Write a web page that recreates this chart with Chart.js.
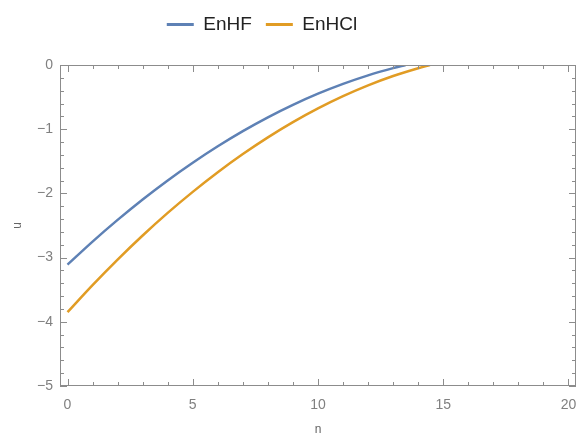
<!DOCTYPE html>
<html>
<head>
<meta charset="utf-8">
<script src="https://cdn.jsdelivr.net/npm/chart.js@4"></script>
<style>
  html, body { margin: 0; padding: 0; background: #fff; }
  #wrap { width: 579px; height: 437px; }
</style>
</head>
<body>
<div id="wrap"><canvas id="plot"></canvas></div>
<script>
// values
const nHF = [0, 1, 2, 3, 4, 5, 6, 7, 8, 9, 10, 11, 12, 13, 13.5];
const enHF = [-3.110, -2.751, -2.413, -2.095, -1.798, -1.522, -1.266, -1.030, -0.815, -0.621, -0.447, -0.294, -0.161, -0.049, 0];

const nHCl = [0, 1, 2, 3, 4, 5, 6, 7, 8, 9, 10, 11, 12, 13, 14, 14.47];
const enHCl = [-3.850, -3.429, -3.031, -2.656, -2.304, -1.976, -1.670, -1.387, -1.127, -0.890, -0.676, -0.485, -0.317, -0.172, -0.050, 0];

const xTicks = [0, 5, 10, 15, 20];
const yTicks = [0, -1, -2, -3, -4, -5];

const FONT = "'Liberation Sans', Arial, sans-serif";
const FRAME = '#8c8c8c';

function pts(xs, ys) {
    return xs.map((x, i) => ({ x: x, y: ys[i] }));
}

// Mathematica-style frame with inward ticks on all four sides
const framePlugin = {
    id: 'frame',
    afterDatasetsDraw(chart) {
        const { ctx, chartArea: a, scales: { x, y } } = chart;
        ctx.save();
        ctx.strokeStyle = FRAME;
        ctx.lineWidth = 1;
        ctx.strokeRect(a.left + 0.5, a.top + 0.5, a.right - a.left - 1, a.bottom - a.top - 1);
        ctx.beginPath();
        for (let v = 0; v <= 20; v++) {
            const px = Math.round(x.getPixelForValue(v)) + 0.5;
            const len = v % 5 === 0 ? 7 : 4;
            ctx.moveTo(px, a.bottom); ctx.lineTo(px, a.bottom - len);
            ctx.moveTo(px, a.top); ctx.lineTo(px, a.top + len);
        }
        for (let k = 0; k <= 25; k++) {
            const v = -k * 0.2;
            const py = Math.round(y.getPixelForValue(v)) + 0.5;
            const len = k % 5 === 0 ? 7 : 4;
            ctx.moveTo(a.left, py); ctx.lineTo(a.left + len, py);
            ctx.moveTo(a.right, py); ctx.lineTo(a.right - len, py);
        }
        ctx.stroke();
        ctx.restore();
    }
};

// extra room under the legend and shift it a bit left, like the original
const legendSpace = {
    id: 'legendSpace',
    beforeInit(chart) {
        const fit = chart.legend.fit;
        chart.legend.fit = function () {
            fit.call(this);
            this.height += 21;
        };
    },
    afterLayout(chart) {
        chart.legend.left -= 26;
        chart.legend.right -= 26;
    }
};

new Chart(document.getElementById('plot'), {
    type: 'scatter',
    data: {
        datasets: [{
            label: 'EnHF',
            data: pts(nHF, enHF),
            showLine: true,
            borderColor: '#5e81b5',
            backgroundColor: '#5e81b5',
            borderWidth: 2.5,
            pointRadius: 0,
            cubicInterpolationMode: 'monotone'
        }, {
            label: 'EnHCl',
            data: pts(nHCl, enHCl),
            showLine: true,
            borderColor: '#e19c24',
            backgroundColor: '#e19c24',
            borderWidth: 2.5,
            pointRadius: 0,
            cubicInterpolationMode: 'monotone'
        }]
    },
    options: {
        responsive: true,
        maintainAspectRatio: false,
        animation: false,
        layout: { padding: { top: 1, right: 3, bottom: 0, left: 0 } },
        plugins: {
            tooltip: { enabled: false },
            legend: {
                position: 'top',
                labels: {
                    boxWidth: 27,
                    boxHeight: 3,
                    padding: 14,
                    color: '#222',
                    font: { family: FONT, size: 19 },
                    generateLabels(chart) {
                        return Chart.defaults.plugins.legend.labels.generateLabels(chart)
                            .map(l => ({ ...l, lineWidth: 0 }));
                    }
                }
            }
        },
        scales: {
            x: {
                type: 'linear',
                min: -0.3,
                max: 20.3,
                afterBuildTicks(s) { s.ticks = xTicks.map(v => ({ value: v })); },
                afterFit(s) { s.height = 51; s.paddingLeft = 0; s.paddingRight = 0; },
                grid: { display: false, drawTicks: false },
                border: { display: false },
                ticks: {
                    padding: 11,
                    maxRotation: 0,
                    color: '#808080',
                    font: { family: FONT, size: 14 }
                },
                title: {
                    display: true,
                    text: 'n',
                    color: '#666',
                    padding: 0,
                    font: { family: FONT, size: 12 }
                }
            },
            y: {
                type: 'linear',
                min: -5,
                max: 0,
                afterBuildTicks(s) { s.ticks = yTicks.map(v => ({ value: v })); },
                afterFit(s) { s.width = 60; },
                grid: { display: false, drawTicks: false },
                border: { display: false },
                ticks: {
                    padding: 7,
                    color: '#808080',
                    font: { family: FONT, size: 14 },
                    callback: v => (v < 0 ? '\u2212' + Math.abs(v) : String(v))
                },
                title: {
                    display: true,
                    text: 'u',
                    color: '#666',
                    padding: { top: 10, bottom: 0 },
                    font: { family: FONT, size: 12 }
                }
            }
        }
    },
    plugins: [framePlugin, legendSpace]
});
</script>
</body>
</html>
